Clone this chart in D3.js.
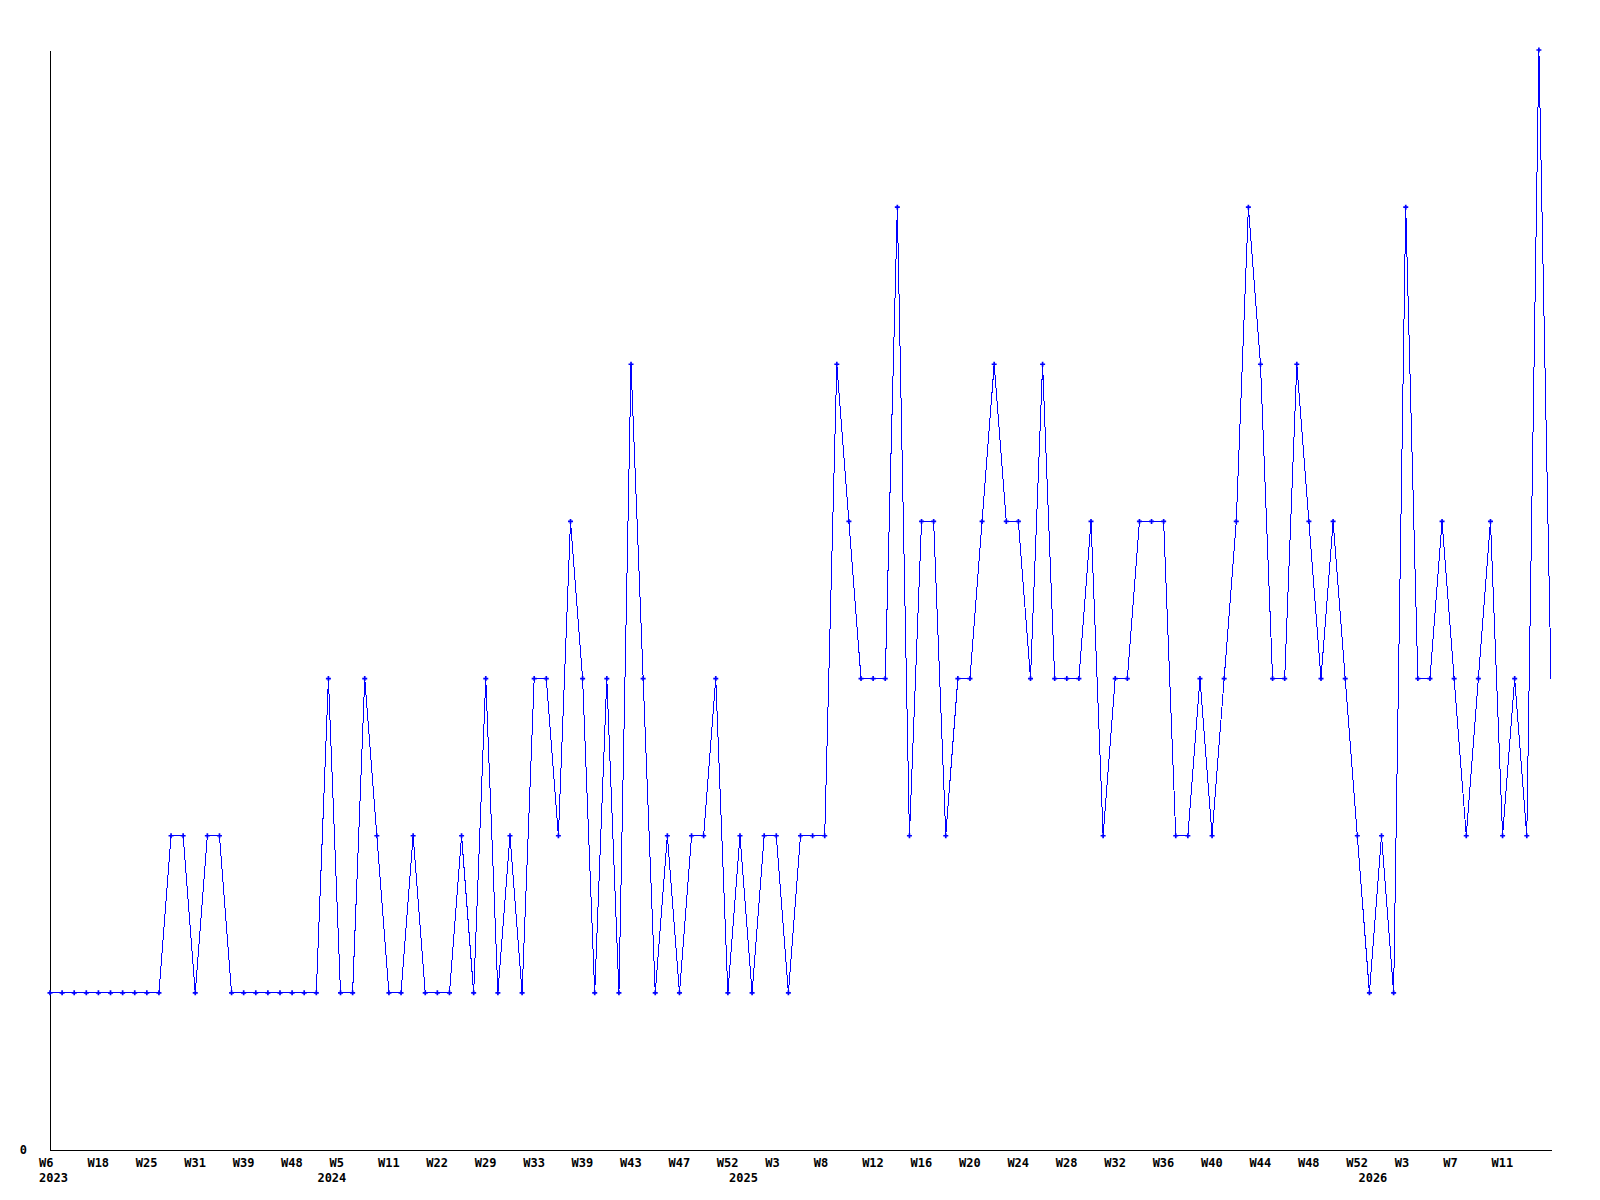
<!DOCTYPE html>
<html>
<head>
<meta charset="utf-8">
<script src="https://cdn.jsdelivr.net/npm/d3@7"></script>
<style>
    body { margin: 0; background: #fff; }
    svg { display: block; background: #fff; }
    .axis text { font-family: 'DejaVu Sans Mono', monospace; font-weight: bold; font-size: 12px; fill: #000; }
    .axis path { stroke: #000; stroke-width: 1; shape-rendering: crispEdges; }
</style>
</head>
<body>
<div id="chart"></div>
<script>
// Weekly counts, one per point
const values = [
    1, 1, 1, 1, 1, 1, 1, 1, 1, 1,
    2, 2, 1, 2, 2, 1, 1, 1, 1, 1,
    1, 1, 1, 3, 1, 1, 3, 2, 1, 1,
    2, 1, 1, 1, 2, 1, 3, 1, 2, 1,
    3, 3, 2, 4, 3, 1, 3, 1, 5, 3,
    1, 2, 1, 2, 2, 3, 1, 2, 1, 2,
    2, 1, 2, 2, 2, 5, 4, 3, 3, 3,
    6, 2, 4, 4, 2, 3, 3, 4, 5, 4,
    4, 3, 5, 3, 3, 3, 4, 2, 3, 3,
    4, 4, 4, 2, 2, 3, 2, 3, 4, 6,
    5, 3, 3, 5, 4, 3, 4, 3, 2, 1,
    2, 1, 6, 3, 3, 4, 3, 2, 3, 4,
    2, 3, 2, 7, 3
];

// Week labels, shown on every 4th point
const weekTickIdx = d3.range(0, 121, 4);
const weekTickLabels = [
    'W6', 'W18', 'W25', 'W31', 'W39', 'W48', 'W5', 'W11', 'W22', 'W29',
    'W33', 'W39', 'W43', 'W47', 'W52', 'W3', 'W8', 'W12', 'W16', 'W20',
    'W24', 'W28', 'W32', 'W36', 'W40', 'W44', 'W48', 'W52', 'W3', 'W7', 'W11'
];

// Year labels (second row)
const yearTickIdx = [0, 23, 57, 109];
const yearTickLabels = ['2023', '2024', '2025', '2026'];

// Y axis
const yTicks = [0];
const yMax = 7;

const width = 1600;
const height = 1200;
const margin = { top: 50, right: 49, bottom: 50, left: 50 };

const svg = d3.select('#chart')
    .append('svg')
    .attr('width', width)
    .attr('height', height);

const xScale = d3.scalePoint()
    .domain(d3.range(values.length))
    .range([margin.left, width - margin.right]);

const yScale = d3.scaleLinear()
    .domain([0, yMax])
    .range([height - margin.bottom, margin.top]);

// X axis: week row (labels start just left of their point)
const xAxis = svg.append('g')
    .attr('class', 'axis x-axis')
    .attr('transform', `translate(0,${height - margin.bottom})`)
    .call(d3.axisBottom(xScale)
        .tickValues(weekTickIdx)
        .tickFormat((d, i) => weekTickLabels[i])
        .tickSize(0)
        .tickSizeOuter(0));
xAxis.selectAll('text')
    .attr('dy', null)
    .attr('y', 17)
    .attr('x', -11.5)
    .attr('text-anchor', 'start');

// X axis: year row
const yearAxis = svg.append('g')
    .attr('class', 'axis year-axis')
    .attr('transform', `translate(0,${height - margin.bottom})`)
    .call(d3.axisBottom(xScale)
        .tickValues(yearTickIdx)
        .tickFormat((d, i) => yearTickLabels[i])
        .tickSize(0)
        .tickSizeOuter(0));
yearAxis.select('.domain').remove();
yearAxis.selectAll('text')
    .attr('dy', null)
    .attr('y', 32)
    .attr('x', -11.5)
    .attr('text-anchor', 'start');

// Y axis
svg.append('g')
    .attr('class', 'axis y-axis')
    .attr('transform', `translate(${margin.left},0)`)
    .call(d3.axisLeft(yScale)
        .tickValues(yTicks)
        .tickFormat(d3.format('d'))
        .tickSize(0)
        .tickSizeOuter(0)
        .tickPadding(23));

// Line
const line = d3.line()
    .x((d, i) => xScale(i))
    .y(d => yScale(d));

svg.append('path')
    .datum(values)
    .attr('class', 'line')
    .attr('d', line)
    .attr('fill', 'none')
    .attr('stroke', '#0000ff')
    .attr('stroke-width', 1)
    .attr('shape-rendering', 'crispEdges');

// Point markers (last point has none)
const marker = d3.symbol().type(d3.symbolCross).size(14);

svg.selectAll('.dot')
    .data(values.slice(0, -1))
    .enter()
    .append('path')
    .attr('class', 'dot')
    .attr('d', marker)
    .attr('transform', (d, i) => `translate(${xScale(i)},${yScale(d)})`)
    .attr('fill', '#0000ff');
</script>
</body>
</html>
